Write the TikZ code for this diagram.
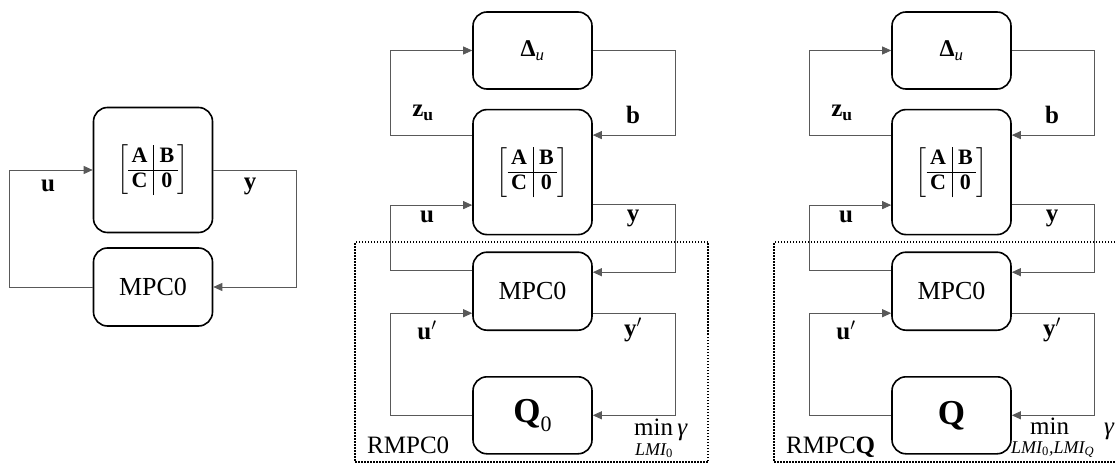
\documentclass[tikz,border=0pt]{standalone}
\usepackage{amsmath}
\usepackage{fontspec}
\setmainfont{Liberation Serif}
\usetikzlibrary{arrows.meta,positioning}

\newcommand{\plantmatrix}{\fontsize{22}{25}\selectfont$\left[\begin{tabular}{@{\,}c|c@{\,}}\textbf{A}&\textbf{B}\\\hline\textbf{C}&\textbf{0}\end{tabular}\right]$}
\newcommand{\deltau}{\fontsize{24}{26}\selectfont\textbf{Δ}\textsubscript{\textit{u}}}

\begin{document}
\begin{tikzpicture}[
    x=1pt, y=-1pt,
    block/.style={draw, line width=1.6pt, rounded corners=14pt, minimum width=119pt, align=center, font=\fontsize{26}{30}\selectfont},
    plantbox/.style={block, minimum height=125pt},
    smallbox/.style={block, minimum height=77pt},
    mpcbox/.style={block, minimum height=78pt},
    link/.style={draw=black!65, line width=0.8pt},
    arrow/.style={link, -{Triangle[length=9pt, width=8pt]}},
    sig/.style={font=\fontsize{25}{28}\selectfont\bfseries},
    frame/.style={draw, line width=1.5pt, dash pattern=on 1.5pt off 1.5pt, minimum width=353pt, minimum height=220pt},
    tag/.style={font=\fontsize{25}{28}\selectfont, anchor=base west, inner sep=0pt},
    cost/.style={font=\fontsize{25}{27}\selectfont, anchor=base west, inner sep=0pt},
    costsub/.style={font=\fontsize{18}{19}\selectfont\itshape, anchor=base west, inner sep=0pt}
  ]
    \useasboundingbox (0,0) rectangle (1116,465);

    % nominal loop
    \node[plantbox] (plantL) at (153,170) {\plantmatrix};
    \node[mpcbox] (mpcL) at (153,287) {MPC0};
    \draw[arrow] (mpcL.west) -- ++(-83,0) |- (plantL.west);
    \draw[arrow] (plantL.east) -- ++(83,0) |- (mpcL.east);
    \node[sig] (uL) at (48,186) {u};
    \node[sig] (yL) at (250,186) {y};

    % RMPC0
    \node[frame] (frameM) at (531.5,352) {};
    \node[smallbox] (deltaM) at (532.5,50.5) {\deltau};
    \node[plantbox, below=19pt of deltaM] (plantM) {\plantmatrix};
    \node[mpcbox, below=16pt of plantM] (mpcM) {MPC0};
    \node[smallbox, below=45pt of mpcM] (qM) {\fontsize{35}{38}\selectfont\textbf{Q}\raisebox{-9pt}{\fontsize{22}{24}\selectfont 0}};
    \draw[arrow] ([yshift=37pt]plantM.west) -- ++(-82,0) |- (deltaM.west);
    \draw[arrow] (deltaM.east) -- ++(83,0) |- ([yshift=37pt]plantM.east);
    \draw[arrow] ([yshift=21pt]mpcM.west) -- ++(-82,0) |- ([yshift=-33pt]plantM.west);
    \draw[arrow] ([yshift=-32pt]plantM.east) -- ++(83,0) |- ([yshift=19pt]mpcM.east);
    \draw[arrow] (qM.west) -- ++(-82,0) |- ([yshift=-22pt]mpcM.west);
    \draw[arrow] ([yshift=-22pt]mpcM.east) -- ++(83,0) |- (qM.east);
    \node[sig] (zuM) at (423,113) {z\textsubscript{u}};
    \node[sig] (bM) at (633,115) {b};
    \node[sig] (uM) at (427,217) {u};
    \node[sig] (yM) at (633,218) {y};
    \node[sig] (upM) at (427,330) {u$'$};
    \node[sig] (ypM) at (633,330) {y$'$};
    \node[tag] (tagM) at (367,453) {RMPC0};
    \node[cost] (minM) at (634,435) {min\,\textit{γ}};
    \node[costsub] (lmiM) at (635,455) {LMI\textsubscript{\upshape 0}};

    % RMPCQ
    \node[frame] (frameR) at (950.5,352) {};
    \node[smallbox] (deltaR) at (951.5,50.5) {\deltau};
    \node[plantbox, below=19pt of deltaR] (plantR) {\plantmatrix};
    \node[mpcbox, below=16pt of plantR] (mpcR) {MPC0};
    \node[smallbox, below=45pt of mpcR] (qR) {\fontsize{35}{38}\selectfont\textbf{Q}};
    \draw[arrow] ([yshift=37pt]plantR.west) -- ++(-82,0) |- (deltaR.west);
    \draw[arrow] (deltaR.east) -- ++(83,0) |- ([yshift=37pt]plantR.east);
    \draw[arrow] ([yshift=21pt]mpcR.west) -- ++(-82,0) |- ([yshift=-33pt]plantR.west);
    \draw[arrow] ([yshift=-32pt]plantR.east) -- ++(83,0) |- ([yshift=19pt]mpcR.east);
    \draw[arrow] (qR.west) -- ++(-82,0) |- ([yshift=-22pt]mpcR.west);
    \draw[arrow] ([yshift=-22pt]mpcR.east) -- ++(83,0) |- (qR.east);
    \node[sig] (zuR) at (842,113) {z\textsubscript{u}};
    \node[sig] (bR) at (1052,115) {b};
    \node[sig] (uR) at (846,217) {u};
    \node[sig] (yR) at (1052,218) {y};
    \node[sig] (upR) at (846,330) {u$'$};
    \node[sig] (ypR) at (1052,330) {y$'$};
    \node[tag] (tagR) at (786,453) {RMPC\textbf{Q}};
    \node[cost] (minR) at (1030,434) {min};
    \node[cost] (gammaR) at (1104,434) {\textit{γ}};
    \node[costsub] (lmiR) at (1011,453) {LMI\textsubscript{\upshape 0},LMI\textsubscript{Q}};
  \end{tikzpicture}
\end{document}
